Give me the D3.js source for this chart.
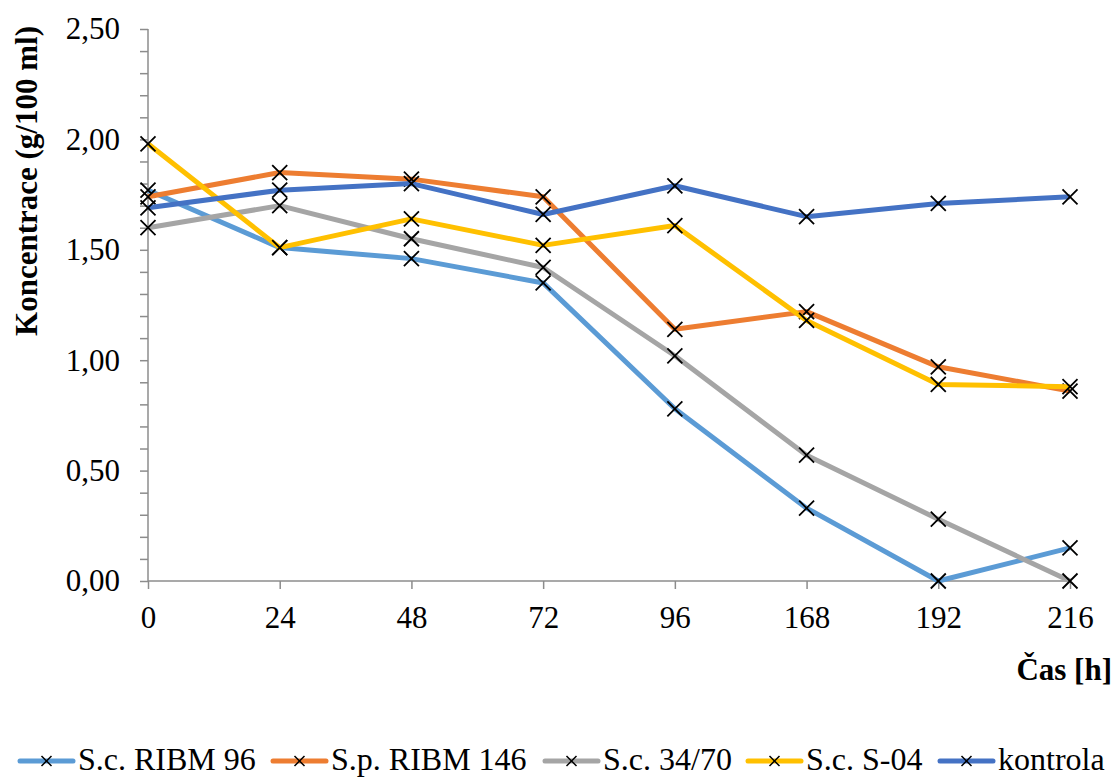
<!DOCTYPE html>
<html>
<head>
    <meta charset="utf-8" />
    <title>Koncentrace</title>
    <style>
        body { margin: 0; background: #fff; }
        text { font-family: "Liberation Serif", "Times New Roman", serif; fill: #000; }
    </style>
</head>
<body>
<script src="https://d3js.org/d3.v7.min.js"></script>
<script>
    var hours = ["0", "24", "48", "72", "96", "168", "192", "216"];
    var yTicks = [0, 0.5, 1, 1.5, 2, 2.5];

    var ribm96 = [1.77, 1.51, 1.46, 1.35, 0.78, 0.33, 0.00, 0.15];
    var ribm146 = [1.74, 1.85, 1.82, 1.74, 1.14, 1.22, 0.97, 0.86];
    var sc3470 = [1.60, 1.70, 1.55, 1.42, 1.02, 0.57, 0.28, 0.00];
    var scs04 = [1.98, 1.51, 1.64, 1.52, 1.61, 1.18, 0.89, 0.88];
    var kontrola = [1.69, 1.77, 1.80, 1.66, 1.79, 1.65, 1.71, 1.74];

    var names = ["S.c. RIBM 96", "S.p. RIBM 146", "S.c. 34/70", "S.c. S-04", "kontrola"];
    var colors = ["#5B9BD5", "#ED7D31", "#A5A5A5", "#FFC000", "#4472C4"];
    var seriesList = [ribm96, ribm146, sc3470, scs04, kontrola];

    var width = 1115, height = 778;
    var plotLeft = 148, plotRight = 1070, plotTop = 29, plotBottom = 581;

    var svg = d3.select("body").append("svg")
        .attr("width", width)
        .attr("height", height);

    var x = d3.scalePoint().domain(hours).range([plotLeft, plotRight]);
    var y = d3.scaleLinear().domain([0, 2.5]).range([plotBottom, plotTop]);

    var axisColor = "#8c8c8c";

    // y axis, minor ticks every 0.1
    var yAxis = d3.axisLeft(y)
        .tickValues(d3.range(0, 26).map(d => d / 10))
        .tickSize(8)
        .tickFormat(d => yTicks.indexOf(d) >= 0 ? d3.format(".2f")(d).replace(".", ",") : "");
    var gy = svg.append("g")
        .attr("transform", "translate(" + plotLeft + ",0)")
        .call(yAxis);
    gy.select(".domain").attr("stroke", axisColor).attr("stroke-width", 1.5)
        .attr("d", "M0," + plotBottom + "V" + plotTop);
    gy.selectAll(".tick line").attr("stroke", axisColor).attr("stroke-width", 1.5);
    gy.selectAll(".tick text")
        .attr("x", -28)
        .style("font-size", "31px")
        .style("font-family", "Liberation Serif");

    var xAxis = d3.axisBottom(x).tickSize(8).tickPadding(17);
    var gx = svg.append("g")
        .attr("transform", "translate(0," + plotBottom + ")")
        .call(xAxis);
    gx.select(".domain").attr("stroke", axisColor).attr("stroke-width", 1.5)
        .attr("d", "M" + plotLeft + ",0H" + plotRight);
    gx.selectAll(".tick line").attr("stroke", axisColor).attr("stroke-width", 1.5);
    gx.selectAll(".tick text")
        .style("font-size", "31px")
        .style("font-family", "Liberation Serif");

    // axis titles
    svg.append("text")
        .attr("transform", "translate(37,181) rotate(-90)")
        .attr("text-anchor", "middle")
        .style("font-size", "31px")
        .style("font-weight", "bold")
        .text("Koncentrace (g/100 ml)");

    svg.append("text")
        .attr("x", 1112)
        .attr("y", 680)
        .attr("text-anchor", "end")
        .style("font-size", "31px")
        .style("font-weight", "bold")
        .text("Čas [h]");

    var line = d3.line()
        .x((d, i) => x(hours[i]))
        .y(d => y(d));

    var cross = 7.5;
    seriesList.forEach(function(vals, k) {
        var g = svg.append("g");
        g.append("path")
            .datum(vals)
            .attr("d", line)
            .attr("fill", "none")
            .attr("stroke", colors[k])
            .attr("stroke-width", 5)
            .attr("stroke-linejoin", "round");
        g.selectAll("path.mark")
            .data(vals)
            .enter().append("path")
            .attr("class", "mark")
            .attr("d", (d, i) => {
                var cx = x(hours[i]), cy = y(d);
                return "M" + (cx - cross) + "," + (cy - cross) + "L" + (cx + cross) + "," + (cy + cross) +
                       "M" + (cx - cross) + "," + (cy + cross) + "L" + (cx + cross) + "," + (cy - cross);
            })
            .attr("stroke", "#000")
            .attr("stroke-width", 1.8)
            .attr("fill", "none");
    });

    // legend
    var legendX = [20, 273, 545, 748, 940];
    var legendY = 761;
    var leg = svg.append("g");
    names.forEach(function(n, k) {
        var lx = legendX[k];
        leg.append("line")
            .attr("x1", lx).attr("x2", lx + 53)
            .attr("y1", legendY).attr("y2", legendY)
            .attr("stroke", colors[k])
            .attr("stroke-width", 5)
            .attr("stroke-linecap", "round");
        var mx = lx + 26.5, s = 5;
        leg.append("path")
            .attr("d", "M" + (mx - s) + "," + (legendY - s) + "L" + (mx + s) + "," + (legendY + s) +
                       "M" + (mx - s) + "," + (legendY + s) + "L" + (mx + s) + "," + (legendY - s))
            .attr("stroke", "#000")
            .attr("stroke-width", 1.5);
        leg.append("text")
            .attr("x", lx + 58)
            .attr("y", legendY + 9)
            .style("font-size", "32px")
            .text(n);
    });
</script>
</body>
</html>
